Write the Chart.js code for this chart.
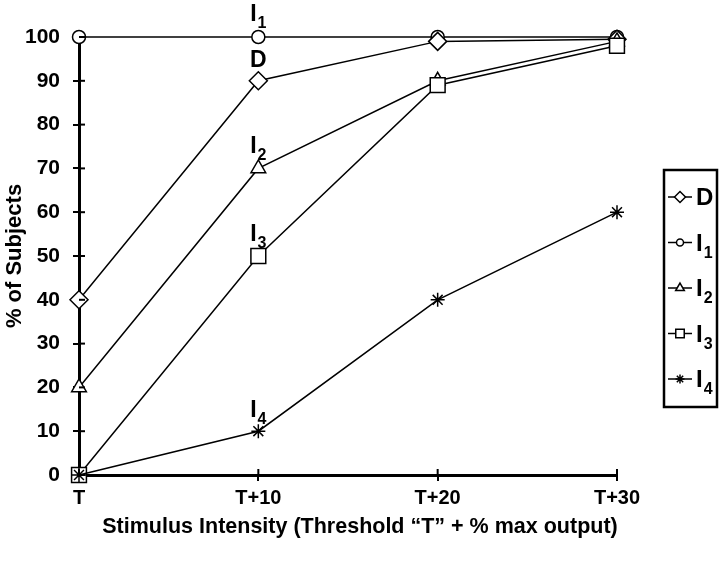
<!DOCTYPE html>
<html>
<head>
<meta charset="utf-8">
<title>% of Subjects vs Stimulus Intensity</title>
<script src="https://cdn.jsdelivr.net/npm/chart.js"></script>
<style>
  html, body { margin: 0; padding: 0; background: #fff; }
  #wrap { width: 720px; height: 573px; }
</style>
</head>
<body>
<div id="wrap"><canvas id="chart" width="720" height="573"></canvas></div>
<script>
// data
const categories = ["T", "T+10", "T+20", "T+30"];
const seriesNames = ["D", "I1", "I2", "I3", "I4"];
const valuesD = [40, 90, 99, 99.5];
const valuesI1 = [100, 100, 100, 100];
const valuesI2 = [20, 70, 90, 99];
const valuesI3 = [0, 50, 89, 98];
const valuesI4 = [0, 10, 40, 60];
const yTickMin = 0;
const yTickMax = 100;
const yTickStep = 10;
const xTitle = "Stimulus Intensity (Threshold \u201cT\u201d + % max output)";

const FONT = "'Liberation Sans', Arial, Helvetica, sans-serif";

function makeSet(name, data, style, radius) {
    return {
        label: name,
        data: data,
        borderColor: "#000",
        borderWidth: 1.5,
        backgroundColor: "#fff",
        pointStyle: style,
        pointRadius: radius,
        pointBorderWidth: 1.5,
        pointBackgroundColor: "#fff",
        pointBorderColor: "#000",
        tension: 0,
        clip: false,
    };
}

var datasets = [
    makeSet(seriesNames[4], valuesI4, "star", 7),
    makeSet(seriesNames[3], valuesI3, "rect", 10.5),
    makeSet(seriesNames[2], valuesI2, "triangle", 8.5),
    makeSet(seriesNames[0], valuesD, "rectRot", 9),
    makeSet(seriesNames[1], valuesI1, "circle", 6.5),
];

// "I1" -> "I" with a subscript "1"
function drawName(ctx, name, x, y, size, align) {
    var main = name.charAt(0);
    var sub = name.slice(1);
    var subSize = Math.round(size * 0.68);
    ctx.font = "bold " + size + "px " + FONT;
    var wMain = ctx.measureText(main).width;
    ctx.font = "bold " + subSize + "px " + FONT;
    var wSub = sub ? ctx.measureText(sub).width + 1 : 0;
    var left = align === "center" ? x - (wMain + wSub) / 2 : x;
    ctx.textAlign = "left";
    ctx.textBaseline = "alphabetic";
    ctx.fillStyle = "#000";
    ctx.font = "bold " + size + "px " + FONT;
    ctx.fillText(main, left, y);
    if (sub) {
        ctx.font = "bold " + subSize + "px " + FONT;
        ctx.fillText(sub, left + wMain + 1, y + size * 0.3);
    }
}

var extras = {
    id: "extras",
    afterDraw(chart) {
        var ctx = chart.ctx;
        var xs = chart.scales.x;
        var ys = chart.scales.y;
        var area = chart.chartArea;
        ctx.save();

        // inner half of the tick marks
        ctx.strokeStyle = "#000";
        ctx.lineWidth = 2;
        ys.ticks.forEach((t) => {
            var y = ys.getPixelForValue(t.value);
            ctx.beginPath();
            ctx.moveTo(area.left, y);
            ctx.lineTo(area.left + 6, y);
            ctx.stroke();
        });
        categories.forEach((c, i) => {
            var x = xs.getPixelForValue(i);
            ctx.beginPath();
            ctx.moveTo(x, area.bottom);
            ctx.lineTo(x, area.bottom - 6);
            ctx.stroke();
        });

        // x axis title, sits a little right of the plot centre
        ctx.fillStyle = "#000";
        ctx.font = "bold 21.5px " + FONT;
        ctx.textAlign = "center";
        ctx.textBaseline = "middle";
        ctx.fillText(xTitle, (area.left + area.right) / 2 + 12, area.bottom + 52);

        // series names above the T+10 points
        var offsets = { D: 14, I1: 16, I2: 15, I3: 15, I4: 14 };
        chart.data.datasets.forEach((ds) => {
            var x = xs.getPixelForValue(1);
            var y = ys.getPixelForValue(ds.data[1]) - offsets[ds.label];
            drawName(ctx, ds.label, x, y, 23, "center");
        });

        // boxed legend on the right
        var boxL = 664, boxT = 170, boxW = 53, boxH = 237;
        ctx.lineWidth = 2.5;
        ctx.strokeStyle = "#000";
        ctx.strokeRect(boxL, boxT, boxW, boxH);
        var legendRadius = { circle: 3.5, rectRot: 5.5, triangle: 5, rect: 6, star: 4.5 };
        seriesNames.forEach((name, i) => {
            var ds = chart.data.datasets.find((d) => d.label === name);
            var cy = boxT + 27 + i * 45.5;
            ctx.lineWidth = 1.5;
            ctx.strokeStyle = "#000";
            ctx.beginPath();
            ctx.moveTo(boxL + 4, cy);
            ctx.lineTo(boxL + 28, cy);
            ctx.stroke();
            ctx.fillStyle = "#fff";
            Chart.helpers.drawPoint(ctx, {
                pointStyle: ds.pointStyle,
                radius: legendRadius[ds.pointStyle],
                rotation: 0,
                borderWidth: 1.5,
            }, boxL + 16, cy);
            drawName(ctx, name, boxL + 32, cy + 8, 24, "left");
        });
        ctx.restore();
    },
};

var ctx = document.getElementById("chart").getContext("2d");

var chart = new Chart(ctx, {
    type: "line",
    data: {
        labels: categories,
        datasets: datasets,
    },
    options: {
        responsive: false,
        animation: false,
        layout: {
            padding: { top: 37, right: 103, left: 0, bottom: 0 },
        },
        plugins: {
            legend: { display: false },
            tooltip: { enabled: false },
        },
        scales: {
            x: {
                type: "category",
                offset: false,
                grid: {
                    display: true,
                    drawOnChartArea: false,
                    drawTicks: true,
                    tickLength: 6,
                    color: "#000",
                    lineWidth: 2,
                },
                border: { display: true, color: "#000", width: 3 },
                ticks: {
                    color: "#000",
                    padding: 5,
                    maxRotation: 0,
                    font: { family: FONT, size: 20, weight: "bold" },
                },
                afterFit(scale) {
                    scale.height = 98;
                },
            },
            y: {
                min: yTickMin,
                max: yTickMax,
                ticks: {
                    stepSize: yTickStep,
                    color: "#000",
                    padding: 13,
                    font: { family: FONT, size: 21, weight: "bold" },
                },
                grid: {
                    display: true,
                    drawOnChartArea: false,
                    drawTicks: true,
                    tickLength: 6,
                    color: "#000",
                    lineWidth: 2,
                },
                border: { display: true, color: "#000", width: 3 },
                title: {
                    display: true,
                    text: "% of Subjects",
                    color: "#000",
                    font: { family: FONT, size: 22, weight: "bold" },
                    padding: { top: 2, bottom: 0 },
                },
                afterFit(scale) {
                    scale.width = 79;
                },
            },
        },
    },
    plugins: [extras],
});
</script>
</body>
</html>
